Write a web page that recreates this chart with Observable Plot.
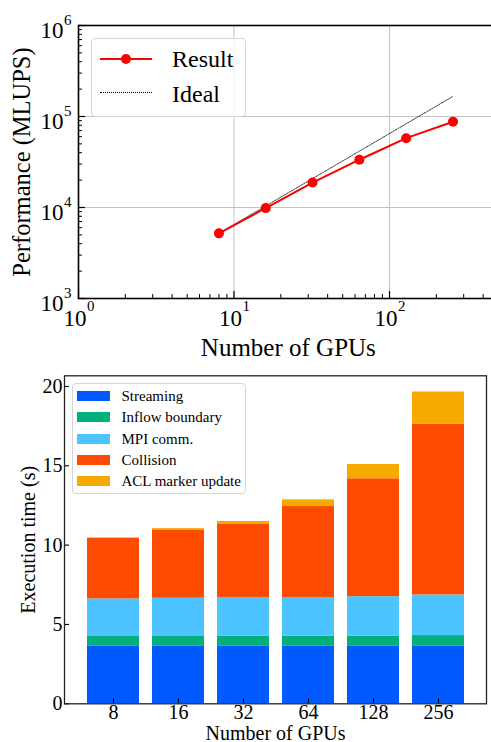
<!DOCTYPE html>
<html><head><meta charset="utf-8">
<script src="https://cdn.jsdelivr.net/npm/d3@7"></script>
<script src="https://cdn.jsdelivr.net/npm/@observablehq/plot@0.6"></script>
<style>
body{margin:0;background:#fff;}
#wrap{position:relative;width:491px;height:742px;overflow:hidden;font-family:"Liberation Serif","Times New Roman",serif;background:#fff;}
#top{position:absolute;left:0;top:0;width:491px;height:370px;overflow:hidden;}
#bot{position:absolute;left:0;top:370px;width:491px;height:372px;overflow:hidden;}
.leg{position:absolute;box-sizing:border-box;border:1px solid #d6d6d6;border-radius:4px;background:rgba(255,255,255,0.8);color:#000;}
.sw{position:absolute;}
.lab{position:absolute;line-height:1;transform:translateY(-50%);white-space:nowrap;}
</style></head>
<body><div id="wrap"><div id="top"></div><div id="bot"></div></div>
<script>
const FONT = "'Liberation Serif','Times New Roman',serif";

// ---- top chart data ----
const gpus = [8, 16, 32, 64, 128, 256];
const perfResult = [5200, 9850, 18800, 33500, 57800, 87500];
const perfIdeal = [5200, 10400, 20800, 41600, 83200, 166400];
const xMajor = [1, 10, 100];
const xMajorExp = ["0", "1", "2"];
const xMinor = [2,3,4,5,6,7,8,9,20,30,40,50,60,70,80,90,200,300,400];
const yMajor = [1e3, 1e4, 1e5, 1e6];
const yMajorExp = ["3", "4", "5", "6"];
const yMinor = [2e3,3e3,4e3,5e3,6e3,7e3,8e3,9e3,2e4,3e4,4e4,5e4,6e4,7e4,8e4,9e4,2e5,3e5,4e5,5e5,6e5,7e5,8e5,9e5];

// ---- bottom chart data ----
const gpuLabels = ["8", "16", "32", "64", "128", "256"];
const series = ["Streaming", "Inflow boundary", "MPI comm.", "Collision", "ACL marker update"];
const streaming = [3.65, 3.65, 3.65, 3.65, 3.65, 3.65];
const inflow    = [0.59, 0.59, 0.60, 0.60, 0.60, 0.65];
const mpi       = [2.37, 2.41, 2.45, 2.45, 2.50, 2.56];
const collision = [3.82, 4.31, 4.60, 5.73, 7.43, 10.77];
const acl       = [0.03, 0.08, 0.19, 0.42, 0.90, 2.02];
const colors = ["#005AFF", "#03AF7A", "#4DC4FF", "#FF4B00", "#F6AA00"];
const yTicksBot = [0, 5, 10, 15, 20];

const perfTable = gpus.map((g, i) => ({gpus: g, result: perfResult[i], ideal: perfIdeal[i]}));
const seriesValues = [streaming, inflow, mpi, collision, acl];
const barTable = series.flatMap((s, j) => gpuLabels.map((g, i) => ({gpu: g, series: s, value: seriesValues[j][i]})));

const topPlot = Plot.plot({
  width: 491, height: 370,
  marginLeft: 78, marginRight: -6.7, marginTop: 25, marginBottom: 72,
  style: {fontFamily: FONT, fontSize: "23px", background: "white", color: "black", overflow: "hidden"},
  x: {type: "log", domain: [1, 500], label: null},
  y: {type: "log", domain: [1e3, 1e6], label: null},
  marks: [
    Plot.gridX(xMajor, {stroke: "#c4c4c4", strokeOpacity: 1, strokeWidth: 1}),
    Plot.gridY(yMajor, {stroke: "#c4c4c4", strokeOpacity: 1, strokeWidth: 1}),
    Plot.line(perfTable, {x: "gpus", y: "ideal", stroke: "#000", strokeWidth: 0.8, strokeDasharray: "1.6,1.2"}),
    Plot.line(perfTable, {x: "gpus", y: "result", stroke: "#ff0000", strokeWidth: 2}),
    Plot.dot(perfTable, {x: "gpus", y: "result", r: 5, fill: "#ff0000", stroke: null}),
    Plot.axisX(xMinor, {anchor: "bottom", tickSize: -4, tickFormat: () => "", strokeWidth: 1}),
    Plot.axisX(xMajor, {anchor: "bottom", tickSize: -7, tickFormat: () => "", strokeWidth: 1.2}),
    Plot.axisY(yMinor, {anchor: "left", tickSize: -4, tickFormat: () => "", strokeWidth: 1}),
    Plot.axisY(yMajor, {anchor: "left", tickSize: -7, tickFormat: () => "", strokeWidth: 1.2}),
    Plot.text(xMajor, {x: d => d, frameAnchor: "bottom", text: () => "10", textAnchor: "end", dx: 8, dy: 20, lineAnchor: "middle", fontSize: 23}),
    Plot.text(xMajor, {x: d => d, frameAnchor: "bottom", text: (d, i) => xMajorExp[i], textAnchor: "start", dx: 8.5, dy: 8, lineAnchor: "middle", fontSize: 15}),
    Plot.text(yMajor, {y: d => d, frameAnchor: "left", text: () => "10", textAnchor: "end", dx: -15, dy: 5, lineAnchor: "middle", fontSize: 23}),
    Plot.text(yMajor, {y: d => d, frameAnchor: "left", text: (d, i) => yMajorExp[i], textAnchor: "start", dx: -14.5, dy: -5.5, lineAnchor: "middle", fontSize: 15}),
    Plot.text(["Performance (MLUPS)"], {text: d => d, frameAnchor: "left", textAnchor: "middle", dx: -56, rotate: -90, lineAnchor: "middle", fontSize: 24.5}),
    Plot.text(["Number of GPUs"], {text: d => d, frameAnchor: "bottom", textAnchor: "middle", dx: 0, dy: 49, lineAnchor: "middle", fontSize: 25}),
    Plot.frame({stroke: "#000", strokeWidth: 1.6})
  ]
});
document.getElementById("top").appendChild(topPlot);

const botPlot = Plot.plot({
  width: 491, height: 372,
  marginLeft: 64, marginRight: 5, marginTop: 5.3, marginBottom: 38.7,
  style: {fontFamily: FONT, fontSize: "20px", background: "white", color: "black"},
  x: {type: "band", domain: gpuLabels, paddingInner: 0.2, paddingOuter: 0.3, label: null},
  y: {domain: [0, 20.67], label: null},
  color: {domain: series, range: colors},
  marks: [
    Plot.barY(barTable, {x: "gpu", y: "value", fill: "series", order: series, insetLeft: 0, insetRight: 0}),
    Plot.axisY(yTicksBot, {anchor: "left", tickSize: -5, tickPadding: 7, fontSize: 20, strokeWidth: 1.1}),
    Plot.axisX({anchor: "bottom", tickSize: -5, tickPadding: 6, fontSize: 20, strokeWidth: 1.1}),
    Plot.text(["Execution time (s)"], {text: d => d, frameAnchor: "left", textAnchor: "middle", dx: -36, rotate: -90, lineAnchor: "middle", fontSize: 20}),
    Plot.text(["Number of GPUs"], {text: d => d, frameAnchor: "bottom", textAnchor: "middle", dy: 30, lineAnchor: "middle", fontSize: 20}),
    Plot.frame({stroke: "#222", strokeWidth: 1.3})
  ]
});
document.getElementById("bot").appendChild(botPlot);

// ---- legends ----
const wrap = document.getElementById("wrap");
function el(tag, cls, css, parent) {
  const e = document.createElement(tag);
  if (cls) e.className = cls;
  Object.assign(e.style, css);
  parent.appendChild(e);
  return e;
}
// top legend
const lt = el("div", "leg", {left: "91px", top: "38px", width: "155px", height: "79px"}, wrap);
const topLegend = [
  {label: "Result", cy: 20, kind: "result"},
  {label: "Ideal", cy: 55, kind: "ideal"}
];
topLegend.forEach(d => {
  if (d.kind === "result") {
    el("div", "sw", {left: "8px", top: (d.cy - 1) + "px", width: "52px", height: "2px", background: "#ff0000"}, lt);
    el("div", "sw", {left: (34 - 5) + "px", top: (d.cy - 5) + "px", width: "10px", height: "10px", borderRadius: "50%", background: "#ff0000"}, lt);
  } else {
    el("div", "sw", {left: "8px", top: (d.cy - 2) + "px", width: "52px", height: "0px", borderTop: "0.8px dotted #000"}, lt);
  }
  const t = el("div", "lab", {left: "80px", top: d.cy + "px", fontSize: "24px"}, lt);
  t.textContent = d.label;
});
// bottom legend
const lb = el("div", "leg", {left: "72px", top: (370 + 13) + "px", width: "174px", height: "111px"}, wrap);
const rowsY = [11.7, 33.4, 54.7, 76.4, 97.4];
series.forEach((s, i) => {
  el("div", "sw", {left: "4.4px", top: (rowsY[i] - 5) + "px", width: "32.6px", height: "10px", background: colors[i]}, lb);
  const t = el("div", "lab", {left: "48.5px", top: rowsY[i] + "px", fontSize: "15px"}, lb);
  t.textContent = s;
});
</script>
</body></html>
